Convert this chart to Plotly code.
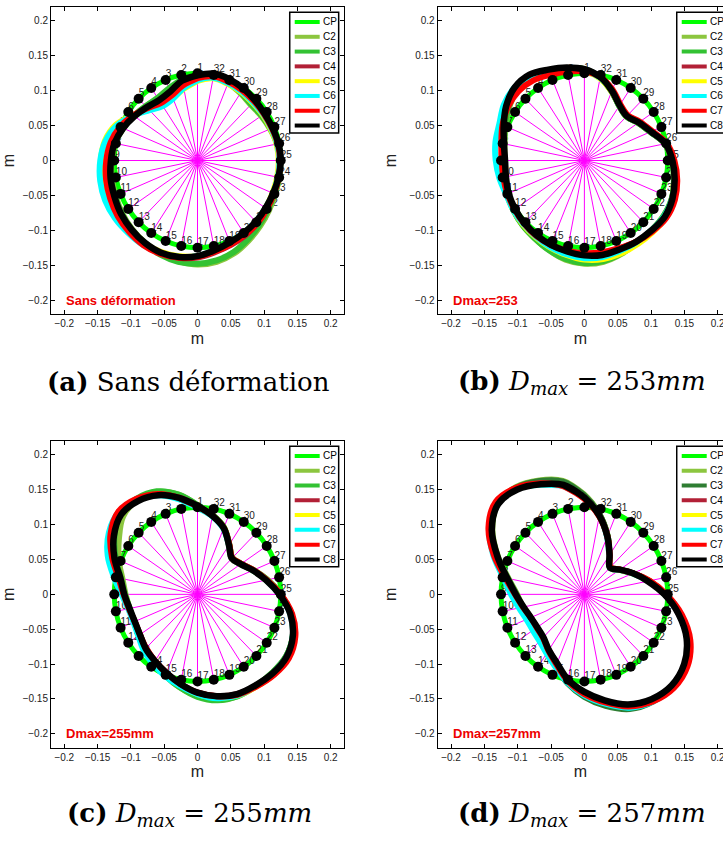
import math
import plotly.graph_objects as go

# ---------------- data ----------------
ANGLES_DEG = [90.0, 101.25, 112.5, 123.75, 135.0, 146.25, 157.5, 168.75,
              180.0, 191.25, 202.5, 213.75, 225.0, 236.25, 247.5, 258.75,
              270.0, 281.25, 292.5, 303.75, 315.0, 326.25, 337.5, 348.75,
              0.0, 11.25, 22.5, 33.75, 45.0, 56.25, 67.5, 78.75]
POINT_LABELS = ["1", "2", "3", "4", "5", "6", "7", "8", "9", "10", "11", "12",
                "13", "14", "15", "16", "17", "18", "19", "20", "21", "22", "23",
                "24", "25", "26", "27", "28", "29", "30", "31", "32"]
CP_RADIUS = [0.125, 0.125, 0.125, 0.125, 0.125, 0.125, 0.125, 0.125,
             0.125, 0.125, 0.125, 0.125, 0.125, 0.125, 0.125, 0.125,
             0.125, 0.125, 0.125, 0.125, 0.125, 0.125, 0.125, 0.125,
             0.125, 0.125, 0.125, 0.125, 0.125, 0.125, 0.125, 0.125]

SERIES_NAMES = ["CP", "C2", "C3", "C4", "C5", "C6", "C7", "C8"]
TICK_VALS = [-0.2, -0.15, -0.1, -0.05, 0, 0.05, 0.1, 0.15, 0.2]
TICK_TEXT = ["\u22120.2", "\u22120.15", "\u22120.1", "\u22120.05", "0", "0.05", "0.1", "0.15", "0.2"]

# radii of the measured contours along the 32 rays (m)
# panel (a) - sans deformation
C2_A = [0.121, 0.117, 0.110, 0.107, 0.110, 0.115, 0.121, 0.126, 0.129, 0.131, 0.133, 0.136, 0.139, 0.142, 0.145, 0.147,
        0.149, 0.148, 0.144, 0.138, 0.133, 0.129, 0.126, 0.125, 0.124, 0.122, 0.118, 0.115, 0.113, 0.116, 0.120, 0.123]
C3_A = [0.121, 0.118, 0.112, 0.108, 0.110, 0.115, 0.121, 0.127, 0.130, 0.132, 0.134, 0.137, 0.140, 0.143, 0.146, 0.148,
        0.148, 0.146, 0.142, 0.136, 0.131, 0.127, 0.125, 0.125, 0.124, 0.122, 0.119, 0.116, 0.114, 0.117, 0.121, 0.124]
C4_A = [0.119, 0.112, 0.103, 0.100, 0.106, 0.115, 0.124, 0.131, 0.135, 0.138, 0.140, 0.142, 0.143, 0.144, 0.144, 0.142,
        0.139, 0.134, 0.131, 0.129, 0.127, 0.125, 0.124, 0.124, 0.124, 0.123, 0.121, 0.120, 0.120, 0.121, 0.122, 0.124]
C5_A = [0.114, 0.105, 0.097, 0.096, 0.103, 0.117, 0.133, 0.142, 0.145, 0.146, 0.146, 0.145, 0.144, 0.143, 0.142, 0.140,
        0.137, 0.132, 0.128, 0.126, 0.124, 0.123, 0.122, 0.122, 0.122, 0.121, 0.119, 0.118, 0.117, 0.118, 0.119, 0.120]
C6_A = [0.115, 0.106, 0.096, 0.094, 0.102, 0.116, 0.131, 0.141, 0.146, 0.149, 0.150, 0.149, 0.147, 0.146, 0.144, 0.141,
        0.137, 0.131, 0.127, 0.125, 0.124, 0.123, 0.123, 0.123, 0.123, 0.122, 0.120, 0.119, 0.118, 0.119, 0.120, 0.121]
C7_A = [0.118, 0.110, 0.101, 0.099, 0.106, 0.116, 0.126, 0.133, 0.137, 0.140, 0.142, 0.144, 0.145, 0.146, 0.145, 0.142,
        0.138, 0.133, 0.130, 0.128, 0.127, 0.125, 0.124, 0.124, 0.124, 0.123, 0.121, 0.120, 0.120, 0.121, 0.122, 0.123]
C8_A = [0.122, 0.117, 0.107, 0.104, 0.108, 0.114, 0.121, 0.127, 0.130, 0.133, 0.135, 0.138, 0.140, 0.142, 0.143, 0.141,
        0.137, 0.131, 0.127, 0.125, 0.124, 0.123, 0.123, 0.124, 0.125, 0.124, 0.122, 0.121, 0.122, 0.124, 0.126, 0.127]

# panel (b) - Dmax = 253
C2_B = [0.131, 0.135, 0.138, 0.142, 0.142, 0.136, 0.128, 0.122, 0.120, 0.122, 0.125, 0.128, 0.131, 0.134, 0.139, 0.145,
        0.148, 0.148, 0.145, 0.142, 0.142, 0.143, 0.142, 0.137, 0.131, 0.123, 0.107, 0.097, 0.089, 0.094, 0.107, 0.121]
C3_B = [0.131, 0.135, 0.139, 0.143, 0.143, 0.137, 0.129, 0.123, 0.121, 0.122, 0.125, 0.128, 0.131, 0.134, 0.139, 0.144,
        0.147, 0.147, 0.144, 0.142, 0.142, 0.143, 0.142, 0.137, 0.131, 0.123, 0.107, 0.097, 0.089, 0.094, 0.107, 0.121]
C4_B = [0.129, 0.132, 0.136, 0.142, 0.143, 0.139, 0.132, 0.125, 0.122, 0.122, 0.124, 0.126, 0.128, 0.130, 0.131, 0.132,
        0.134, 0.136, 0.137, 0.140, 0.143, 0.146, 0.145, 0.140, 0.134, 0.125, 0.109, 0.099, 0.091, 0.096, 0.109, 0.122]
C5_B = [0.128, 0.132, 0.137, 0.143, 0.145, 0.140, 0.132, 0.126, 0.123, 0.124, 0.126, 0.128, 0.130, 0.132, 0.135, 0.138,
        0.142, 0.144, 0.144, 0.144, 0.145, 0.147, 0.145, 0.140, 0.133, 0.124, 0.108, 0.098, 0.090, 0.095, 0.107, 0.120]
C6_B = [0.129, 0.134, 0.140, 0.146, 0.148, 0.145, 0.138, 0.136, 0.133, 0.130, 0.127, 0.128, 0.129, 0.131, 0.134, 0.137,
        0.140, 0.141, 0.140, 0.141, 0.142, 0.144, 0.143, 0.139, 0.133, 0.124, 0.108, 0.098, 0.090, 0.095, 0.108, 0.121]
C7_B = [0.128, 0.130, 0.133, 0.138, 0.140, 0.138, 0.133, 0.127, 0.124, 0.124, 0.125, 0.126, 0.128, 0.130, 0.131, 0.132,
        0.133, 0.134, 0.136, 0.140, 0.144, 0.148, 0.147, 0.142, 0.135, 0.126, 0.110, 0.100, 0.092, 0.097, 0.110, 0.122]
C8_B = [0.131, 0.136, 0.141, 0.148, 0.148, 0.141, 0.131, 0.123, 0.119, 0.120, 0.123, 0.125, 0.127, 0.129, 0.131, 0.133,
        0.136, 0.138, 0.138, 0.140, 0.142, 0.145, 0.143, 0.138, 0.132, 0.124, 0.108, 0.098, 0.090, 0.095, 0.108, 0.122]

# panel (c) - Dmax = 255 mm
C2_C = [0.128, 0.146, 0.159, 0.163, 0.158, 0.142, 0.128, 0.115, 0.108, 0.104, 0.103, 0.106, 0.112, 0.118, 0.126, 0.136,
        0.146, 0.154, 0.158, 0.158, 0.159, 0.160, 0.155, 0.143, 0.125, 0.107, 0.091, 0.079, 0.074, 0.086, 0.104, 0.116]
C3_C = [0.128, 0.146, 0.160, 0.165, 0.164, 0.150, 0.133, 0.117, 0.109, 0.104, 0.103, 0.106, 0.112, 0.118, 0.126, 0.136,
        0.147, 0.155, 0.158, 0.158, 0.159, 0.160, 0.155, 0.143, 0.125, 0.107, 0.091, 0.079, 0.074, 0.086, 0.104, 0.116]
C4_C = [0.126, 0.141, 0.155, 0.164, 0.166, 0.155, 0.137, 0.120, 0.110, 0.105, 0.102, 0.104, 0.110, 0.115, 0.122, 0.131,
        0.141, 0.149, 0.155, 0.158, 0.162, 0.163, 0.157, 0.144, 0.124, 0.106, 0.090, 0.078, 0.073, 0.085, 0.103, 0.115]
C5_C = [0.125, 0.140, 0.155, 0.163, 0.165, 0.155, 0.140, 0.122, 0.112, 0.105, 0.103, 0.105, 0.111, 0.116, 0.123, 0.132,
        0.143, 0.151, 0.157, 0.159, 0.162, 0.163, 0.157, 0.143, 0.124, 0.105, 0.090, 0.078, 0.073, 0.085, 0.103, 0.115]
C6_C = [0.124, 0.139, 0.154, 0.164, 0.167, 0.160, 0.146, 0.128, 0.114, 0.106, 0.104, 0.107, 0.114, 0.120, 0.127, 0.134,
        0.143, 0.152, 0.157, 0.158, 0.160, 0.161, 0.155, 0.142, 0.123, 0.105, 0.090, 0.078, 0.073, 0.085, 0.102, 0.114]
C7_C = [0.126, 0.141, 0.156, 0.165, 0.168, 0.157, 0.139, 0.121, 0.111, 0.105, 0.102, 0.104, 0.109, 0.115, 0.122, 0.131,
        0.141, 0.149, 0.156, 0.159, 0.163, 0.165, 0.159, 0.145, 0.125, 0.106, 0.091, 0.079, 0.074, 0.086, 0.103, 0.115]
C8_C = [0.127, 0.141, 0.154, 0.161, 0.162, 0.151, 0.135, 0.118, 0.110, 0.104, 0.102, 0.104, 0.110, 0.115, 0.122, 0.131,
        0.141, 0.149, 0.155, 0.157, 0.160, 0.161, 0.155, 0.142, 0.123, 0.105, 0.090, 0.078, 0.073, 0.085, 0.103, 0.115]

# panel (d) - Dmax = 257 mm
C2_D = [0.143, 0.166, 0.177, 0.185, 0.184, 0.166, 0.140, 0.116, 0.101, 0.094, 0.089, 0.089, 0.092, 0.100, 0.111, 0.129,
        0.146, 0.162, 0.177, 0.184, 0.186, 0.181, 0.167, 0.145, 0.121, 0.099, 0.079, 0.064, 0.055, 0.068, 0.091, 0.117]
C3_D = [0.142, 0.165, 0.176, 0.184, 0.184, 0.167, 0.141, 0.117, 0.102, 0.095, 0.090, 0.090, 0.093, 0.101, 0.112, 0.130,
        0.147, 0.163, 0.178, 0.185, 0.186, 0.181, 0.167, 0.145, 0.121, 0.099, 0.079, 0.064, 0.055, 0.068, 0.091, 0.117]
C4_D = [0.138, 0.159, 0.172, 0.183, 0.186, 0.171, 0.145, 0.120, 0.104, 0.094, 0.087, 0.086, 0.088, 0.096, 0.108, 0.126,
        0.142, 0.157, 0.173, 0.183, 0.188, 0.184, 0.170, 0.147, 0.122, 0.099, 0.079, 0.064, 0.055, 0.068, 0.090, 0.115]
C5_D = [0.139, 0.159, 0.171, 0.182, 0.186, 0.171, 0.145, 0.120, 0.105, 0.095, 0.089, 0.088, 0.090, 0.098, 0.109, 0.127,
        0.143, 0.158, 0.174, 0.184, 0.188, 0.184, 0.170, 0.147, 0.122, 0.099, 0.078, 0.063, 0.054, 0.067, 0.090, 0.115]
C6_D = [0.138, 0.158, 0.170, 0.182, 0.186, 0.172, 0.148, 0.124, 0.110, 0.100, 0.094, 0.093, 0.095, 0.102, 0.113, 0.129,
        0.145, 0.160, 0.176, 0.185, 0.188, 0.183, 0.169, 0.146, 0.121, 0.098, 0.078, 0.063, 0.054, 0.067, 0.089, 0.115]
C7_D = [0.137, 0.158, 0.172, 0.184, 0.188, 0.173, 0.147, 0.121, 0.104, 0.094, 0.087, 0.086, 0.088, 0.097, 0.109, 0.127,
        0.143, 0.158, 0.174, 0.185, 0.190, 0.186, 0.172, 0.149, 0.123, 0.100, 0.079, 0.064, 0.055, 0.068, 0.090, 0.114]
C8_D = [0.139, 0.160, 0.171, 0.181, 0.183, 0.167, 0.141, 0.118, 0.103, 0.093, 0.087, 0.085, 0.087, 0.096, 0.107, 0.125,
        0.140, 0.155, 0.171, 0.181, 0.185, 0.180, 0.166, 0.144, 0.120, 0.097, 0.079, 0.064, 0.054, 0.068, 0.090, 0.115]

CAPTIONS = ["<b>(a)</b> Sans déformation",
            "<b>(b)</b> <i>D</i><sub><i>max</i></sub> = 253<i>mm</i>",
            "<b>(c)</b> <i>D</i><sub><i>max</i></sub> = 255<i>mm</i>",
            "<b>(d)</b> <i>D</i><sub><i>max</i></sub> = 257<i>mm</i>"]
INSET_TEXT = ["Sans déformation", "Dmax=253", "Dmax=255mm", "Dmax=257mm"]

COLORS = {"CP": "#00FF00", "C2": "#8CC63F", "C3": "#33C233", "C4": "#B22036",
          "C5": "#FFFF00", "C6": "#00FFFF", "C7": "#FF0000", "C8": "#000000"}
C3_DARK = "#2E7D32"

# ---------------- layout geometry (pixels) ----------------
W, H = 723, 841
PANEL_BOX = [  # left, right, top, bottom (px)
    (51, 344, 7, 314),
    (437.7, 723, 7, 314),
    (51, 344, 441, 747.7),
    (437.7, 723, 441, 747.7),
]
X_RANGES = [[-0.22, 0.22], [-0.22, 0.2079], [-0.22, 0.22], [-0.22, 0.2079]]
CAPTION_POS = [(188, 382), (582, 382), (189, 814), (582, 814)]

SANS = "Liberation Sans, Arial, sans-serif"

fig = go.Figure()


def polar_xy(radii, angles):
    xs = [r * math.cos(math.radians(a)) for r, a in zip(radii, angles)]
    ys = [r * math.sin(math.radians(a)) for r, a in zip(radii, angles)]
    return xs, ys


def closed(xs, ys):
    return xs + xs[:2], ys + ys[:2]


panel_contours = [
    [C2_A, C3_A, C4_A, C5_A, C6_A, C7_A, C8_A],
    [C2_B, C3_B, C4_B, C5_B, C6_B, C7_B, C8_B],
    [C2_C, C3_C, C4_C, C5_C, C6_C, C7_C, C8_C],
    [C2_D, C3_D, C4_D, C5_D, C6_D, C7_D, C8_D],
]

shapes = []
annotations = []

for p in range(4):
    sfx = "" if p == 0 else str(p + 1)
    xa, ya = "x" + sfx, "y" + sfx
    dot_x, dot_y = polar_xy(CP_RADIUS, ANGLES_DEG)

    # radial lines
    rx, ry = [], []
    for x, y in zip(dot_x, dot_y):
        rx += [0, x, None]
        ry += [0, y, None]
    fig.add_trace(go.Scatter(x=rx, y=ry, mode="lines", xaxis=xa, yaxis=ya,
                             line=dict(color="#FF00FF", width=1), showlegend=False,
                             hoverinfo="skip"))
    # CP circle
    cx, cy = closed(dot_x, dot_y)
    fig.add_trace(go.Scatter(x=cx, y=cy, mode="lines", name="CP", xaxis=xa, yaxis=ya,
                             line=dict(color=COLORS["CP"], width=5, shape="spline"),
                             showlegend=False))
    # point numbers
    fig.add_trace(go.Scatter(x=dot_x, y=dot_y, mode="text", text=POINT_LABELS,
                             textposition="top right", xaxis=xa, yaxis=ya,
                             textfont=dict(family=SANS, size=10, color="#222222"),
                             showlegend=False, hoverinfo="skip"))
    # measured contours
    for name, radii in zip(SERIES_NAMES[1:], panel_contours[p]):
        col = COLORS[name]
        if name == "C3" and p == 3:
            col = C3_DARK
        xs, ys = closed(*polar_xy(radii, ANGLES_DEG))
        fig.add_trace(go.Scatter(x=xs, y=ys, mode="lines", name=name, xaxis=xa, yaxis=ya,
                                 line=dict(color=col, width=6.5 if name == "C8" else 6,
                                           shape="spline"),
                                 showlegend=False))
    # control points
    fig.add_trace(go.Scatter(x=dot_x, y=dot_y, mode="markers", xaxis=xa, yaxis=ya,
                             marker=dict(color="black", size=10), showlegend=False))

    left, right, top, bottom = PANEL_BOX[p]
    xdom = [left / W, right / W]
    ydom = [1 - bottom / H, 1 - top / H]
    axis_common = dict(tickvals=TICK_VALS, ticktext=TICK_TEXT, ticks="inside", ticklen=4,
                       tickcolor="black", showline=True, linecolor="black", linewidth=1,
                       showgrid=False, zeroline=False, fixedrange=True, automargin=False,
                       ticklabeloverflow="allow",
                       tickfont=dict(family=SANS, size=10, color="#222222"))
    fig.layout["xaxis" + sfx] = dict(domain=xdom, range=X_RANGES[p], anchor=ya,
                                     mirror="allticks",
                                     title=dict(text="m", standoff=4,
                                                font=dict(family=SANS, size=16, color="#222222")),
                                     **axis_common)
    fig.layout["yaxis" + sfx] = dict(domain=ydom, range=[-0.22, 0.22], anchor=xa,
                                     mirror="allticks" if p in (0, 2) else False,
                                     title=dict(text="m", standoff=8,
                                                font=dict(family=SANS, size=16, color="#222222")),
                                     **axis_common)

    # legend box (drawn as in the original, inside the axes)
    shapes.append(dict(type="rect", xref=xa, yref=ya, x0=0.1385, x1=0.212, y0=0.0395, y1=0.2125,
                       line=dict(color="black", width=1.5), fillcolor="white", layer="above"))
    for i, name in enumerate(SERIES_NAMES):
        col = COLORS[name]
        if name == "C3" and p == 3:
            col = C3_DARK
        yy = 0.1985 - i * 0.0212
        shapes.append(dict(type="line", xref=xa, yref=ya, x0=0.146, x1=0.1835, y0=yy, y1=yy,
                           line=dict(color=col, width=4), layer="above"))
        annotations.append(dict(x=0.1868, y=yy, xref=xa, yref=ya, text=name, showarrow=False,
                                xanchor="left", yanchor="middle", borderpad=0,
                                font=dict(family=SANS, size=10, color="black")))
    # inset red label
    annotations.append(dict(x=-0.2, y=-0.2, xref=xa, yref=ya, text="<b>" + INSET_TEXT[p] + "</b>",
                            showarrow=False, xanchor="left", yanchor="middle",
                            font=dict(family=SANS, size=13, color="#EE0000")))
    # caption
    cxp, cyp = CAPTION_POS[p]
    annotations.append(dict(x=cxp / W, y=1 - cyp / H, xref="paper", yref="paper",
                            text=CAPTIONS[p], showarrow=False, xanchor="center", yanchor="middle",
                            font=dict(family="DejaVu Serif, serif", size=26, color="black")))

fig.update_layout(width=W, height=H, margin=dict(l=0, r=0, t=0, b=0, autoexpand=False),
                  paper_bgcolor="white", plot_bgcolor="white",
                  shapes=shapes, annotations=annotations, showlegend=False)

fig.write_html("out.html", config={"displayModeBar": False},
               post_script="document.body.style.margin='0';document.body.style.padding='0';")
